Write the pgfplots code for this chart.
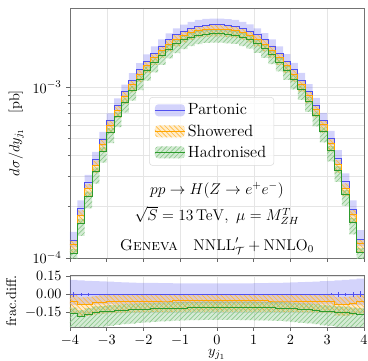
\documentclass[border=0pt]{standalone}
\usepackage{amsmath}
\usepackage{pgfplots}
\usepackage{pgfplotstable}
\pgfplotsset{compat=1.18}
\usepgfplotslibrary{fillbetween}

\definecolor{pblue}{RGB}{80,80,240}
\definecolor{porange}{RGB}{255,165,0}
\definecolor{pgreen}{RGB}{45,155,45}
\colorlet{hatchorange}{porange!75}
\colorlet{hatchgreen}{pgreen!55}

% bin left edge, partonic xs with upper/lower rel. band, showered and
% hadronised fractional differences w.r.t. partonic with upper/lower bands,
% partonic stat. error
\pgfplotstableread{
x     p        pu     pd     s       su     sd     h       hu     hd     e
-4.0  1.27e-4  0.120  0.090  -0.055  0.060  0.100  -0.160  0.050  0.130  0.020
-3.8  1.95e-4  0.115  0.088  -0.085  0.060  0.100  -0.180  0.050  0.130  0.015
-3.6  2.76e-4  0.112  0.085  -0.080  0.060  0.098  -0.165  0.050  0.128  0.010
-3.4  3.76e-4  0.110  0.083  -0.070  0.058  0.096  -0.150  0.050  0.125  0.006
-3.2  4.94e-4  0.107  0.082  -0.065  0.058  0.095  -0.145  0.050  0.122  0.005
-3.0  6.35e-4  0.105  0.080  -0.062  0.057  0.094  -0.140  0.050  0.120  0.004
-2.8  7.80e-4  0.102  0.080  -0.060  0.057  0.093  -0.135  0.050  0.118  0.004
-2.6  9.40e-4  0.100  0.078  -0.060  0.056  0.092  -0.130  0.050  0.116  0.003
-2.4  1.10e-3  0.098  0.078  -0.058  0.056  0.092  -0.128  0.050  0.114  0.003
-2.2  1.26e-3  0.096  0.077  -0.057  0.055  0.091  -0.125  0.050  0.112  0.003
-2.0  1.42e-3  0.095  0.077  -0.056  0.055  0.091  -0.122  0.050  0.110  0.003
-1.8  1.58e-3  0.094  0.076  -0.056  0.055  0.090  -0.120  0.050  0.108  0.002
-1.6  1.74e-3  0.093  0.076  -0.055  0.055  0.090  -0.118  0.050  0.106  0.002
-1.4  1.89e-3  0.092  0.075  -0.055  0.055  0.090  -0.116  0.050  0.105  0.002
-1.2  2.02e-3  0.091  0.075  -0.054  0.054  0.090  -0.114  0.050  0.104  0.002
-1.0  2.13e-3  0.090  0.075  -0.054  0.054  0.090  -0.113  0.050  0.103  0.002
-0.8  2.21e-3  0.090  0.075  -0.054  0.054  0.090  -0.112  0.050  0.102  0.002
-0.6  2.27e-3  0.090  0.075  -0.053  0.054  0.090  -0.112  0.050  0.102  0.002
-0.4  2.30e-3  0.090  0.075  -0.053  0.054  0.090  -0.111  0.050  0.101  0.002
-0.2  2.31e-3  0.090  0.075  -0.053  0.054  0.090  -0.111  0.050  0.101  0.002
 0.0  2.31e-3  0.090  0.075  -0.053  0.054  0.090  -0.111  0.050  0.101  0.002
 0.2  2.29e-3  0.090  0.075  -0.053  0.054  0.090  -0.111  0.050  0.101  0.002
 0.4  2.27e-3  0.090  0.075  -0.053  0.054  0.090  -0.111  0.050  0.101  0.002
 0.6  2.21e-3  0.090  0.075  -0.053  0.054  0.090  -0.111  0.050  0.102  0.002
 0.8  2.13e-3  0.091  0.075  -0.054  0.054  0.090  -0.111  0.050  0.102  0.002
 1.0  2.02e-3  0.092  0.075  -0.054  0.054  0.090  -0.112  0.050  0.103  0.002
 1.2  1.89e-3  0.093  0.075  -0.054  0.054  0.090  -0.112  0.050  0.104  0.002
 1.4  1.74e-3  0.094  0.076  -0.055  0.055  0.090  -0.112  0.050  0.105  0.002
 1.6  1.58e-3  0.095  0.076  -0.055  0.055  0.090  -0.113  0.050  0.106  0.002
 1.8  1.42e-3  0.097  0.077  -0.055  0.055  0.091  -0.116  0.050  0.108  0.003
 2.0  1.26e-3  0.099  0.077  -0.055  0.055  0.091  -0.120  0.050  0.110  0.003
 2.2  1.10e-3  0.101  0.078  -0.056  0.056  0.092  -0.124  0.050  0.112  0.003
 2.4  9.45e-4  0.103  0.078  -0.056  0.056  0.092  -0.127  0.050  0.114  0.004
 2.6  7.82e-4  0.106  0.080  -0.057  0.057  0.093  -0.130  0.050  0.116  0.004
 2.8  6.38e-4  0.109  0.080  -0.058  0.057  0.094  -0.138  0.050  0.118  0.005
 3.0  4.98e-4  0.112  0.082  -0.060  0.058  0.095  -0.142  0.050  0.120  0.008
 3.2  3.83e-4  0.116  0.083  -0.080  0.058  0.096  -0.150  0.050  0.122  0.020
 3.4  2.79e-4  0.120  0.085  -0.080  0.060  0.098  -0.152  0.050  0.125  0.015
 3.6  1.93e-4  0.125  0.088  -0.072  0.060  0.100  -0.160  0.050  0.128  0.020
 3.8  1.29e-4  0.130  0.090  -0.060  0.060  0.100  -0.165  0.050  0.130  0.025
 4.0  1.29e-4  0.130  0.090  -0.060  0.060  0.100  -0.165  0.050  0.130  0.000
}\data

% hatchings drawn as stroked lines clipped to the filled region:
% "\" lines for the showered band, "/" lines for the hadronised band
\tikzset{
  nodraw/.style={draw=none, draw opacity=0},
  hatchO/.style={nodraw, path picture={
    \foreach \k in {-62,...,66}
      \draw[hatchorange, line width=0.5pt, draw opacity=1]
        ([xshift=\k*3.6pt]path picture bounding box.north west) -- ++(240pt,-240pt);}},
  hatchG/.style={nodraw, path picture={
    \foreach \k in {-62,...,66}
      \draw[hatchgreen, line width=0.5pt, draw opacity=1]
        ([xshift=\k*3.6pt]path picture bounding box.south west) -- ++(240pt,240pt);}},
}
\pgfplotsset{
  panel/.style={
    scale only axis, width=226.4pt,
    xmin=-4, xmax=4, xtick={-4,...,4},
    tick align=outside, tick pos=left,
    major tick length=3pt, minor tick length=1.6pt,
    axis line style={black!55}, every tick/.style={black!60},
    grid=major, grid style={black!10, line width=0.35pt},
    minor grid style={black!10, line width=0.35pt},
    tick label style={font=\fontsize{10.95}{13}\selectfont},
    label style={font=\fontsize{10.95}{13}\selectfont},
  },
}

\begin{document}
\begin{tikzpicture}
% upper panel: cross section
\begin{axis}[panel,
  name=main, at={(53.9pt,79.3pt)}, anchor=south west, height=192.5pt,
  ymode=log, ymin=1e-4, ymax=2.9e-3,
  yminorgrids=true, xticklabels={},
  ylabel={$d\sigma/dy_{j_1}\quad[\mathrm{pb}]$},
  legend style={at={(0.269,0.644)}, anchor=north west, draw=black!15,
    rounded corners=2.5pt, fill=white, fill opacity=0.8, text opacity=1,
    font=\fontsize{12.5}{15}\selectfont,
    row sep=2pt, inner xsep=4pt, inner ysep=3pt},
  legend cell align=left,
]
\addlegendimage{legend image code/.code={
  \fill[pblue, fill opacity=0.25, nodraw] (0pt,-4.6pt) rectangle (23pt,4.6pt);
  \draw[pblue, line width=0.7pt] (0pt,0pt) -- (23pt,0pt);}}
\addlegendentry{Partonic}
\addlegendimage{legend image code/.code={
  \fill[porange, fill opacity=0.2, nodraw] (0pt,-4.6pt) rectangle (23pt,4.6pt);
  \path[hatchO] (0pt,-4.6pt) rectangle (23pt,4.6pt);
  \draw[porange, line width=0.7pt] (0pt,0pt) -- (23pt,0pt);}}
\addlegendentry{Showered}
\addlegendimage{legend image code/.code={
  \fill[pgreen, fill opacity=0.2, nodraw] (0pt,-4.6pt) rectangle (23pt,4.6pt);
  \path[hatchG] (0pt,-4.6pt) rectangle (23pt,4.6pt);
  \draw[pgreen, line width=0.7pt] (0pt,0pt) -- (23pt,0pt);}}
\addlegendentry{Hadronised}

% partonic band
\addplot[forget plot, const plot, nodraw, name path=pU] table[x=x, y expr=\thisrow{p}*(1+\thisrow{pu})] {\data};
\addplot[forget plot, const plot, nodraw, name path=pL] table[x=x, y expr=\thisrow{p}*(1-\thisrow{pd})] {\data};
\addplot[forget plot, fill=pblue, fill opacity=0.25, nodraw] fill between[of=pU and pL];
% showered band
\addplot[forget plot, const plot, nodraw, name path=sU] table[x=x, y expr=\thisrow{p}*(1+\thisrow{s}+\thisrow{su})] {\data};
\addplot[forget plot, const plot, nodraw, name path=sL] table[x=x, y expr=\thisrow{p}*(1+\thisrow{s}-\thisrow{sd})] {\data};
\addplot[forget plot, fill=porange, fill opacity=0.2, nodraw, hatchO] fill between[of=sU and sL];
% hadronised band
\addplot[forget plot, const plot, nodraw, name path=hU] table[x=x, y expr=\thisrow{p}*(1+\thisrow{h}+\thisrow{hu})] {\data};
\addplot[forget plot, const plot, nodraw, name path=hL] table[x=x, y expr=\thisrow{p}*(1+\thisrow{h}-\thisrow{hd})] {\data};
\addplot[forget plot, fill=pgreen, fill opacity=0.2, nodraw, hatchG] fill between[of=hU and hL];
% central values
\addplot[forget plot, const plot, draw=pblue, line width=0.7pt] table[x=x, y=p] {\data};
\addplot[forget plot, const plot, draw=porange, line width=0.7pt] table[x=x, y expr=\thisrow{p}*(1+\thisrow{s})] {\data};
\addplot[forget plot, const plot, draw=pgreen, line width=0.7pt] table[x=x, y expr=\thisrow{p}*(1+\thisrow{h})] {\data};

\begin{scope}[font=\fontsize{12}{14.4}\selectfont]
\node[anchor=center] at (rel axis cs:0.5,0.272) {$pp\to H(Z\to e^+e^-)$};
\node[anchor=center] at (rel axis cs:0.5,0.170) {$\sqrt{S}=13\,\mathrm{TeV},\ \mu=M_{ZH}^T$};
\node[anchor=center] at (rel axis cs:0.5,0.048) {\textsc{Geneva}\quad $\mathrm{NNLL}'_{\mathcal{T}}+\mathrm{NNLO}_0$};
\end{scope}
\end{axis}

% lower panel: fractional difference
\begin{axis}[panel,
  name=ratio, at={(53.9pt,26.2pt)}, anchor=south west, height=40pt,
  ymin=-0.27, ymax=0.16, ytick={-0.15,0,0.15},
  yticklabel style={/pgf/number format/.cd, fixed, fixed zerofill, precision=2},
  ylabel={frac.diff.}, xlabel={$y_{j_1}$},
  xlabel style={yshift=4pt},
]
\addplot[const plot, nodraw, name path=rpU] table[x=x, y=pu] {\data};
\addplot[const plot, nodraw, name path=rpL] table[x=x, y expr=-\thisrow{pd}] {\data};
\addplot[fill=pblue, fill opacity=0.25, nodraw] fill between[of=rpU and rpL];
\addplot[const plot, nodraw, name path=rsU] table[x=x, y expr=\thisrow{s}+\thisrow{su}] {\data};
\addplot[const plot, nodraw, name path=rsL] table[x=x, y expr=\thisrow{s}-\thisrow{sd}] {\data};
\addplot[fill=porange, fill opacity=0.2, nodraw, hatchO] fill between[of=rsU and rsL];
\addplot[const plot, nodraw, name path=rhU] table[x=x, y expr=\thisrow{h}+\thisrow{hu}] {\data};
\addplot[const plot, nodraw, name path=rhL] table[x=x, y expr=\thisrow{h}-\thisrow{hd}] {\data};
\addplot[fill=pgreen, fill opacity=0.2, nodraw, hatchG] fill between[of=rhU and rhL];
\addplot[const plot, draw=pblue, line width=0.6pt] table[x=x, y expr=0] {\data};
\addplot[const plot, draw=porange, line width=0.6pt] table[x=x, y=s] {\data};
\addplot[const plot, draw=pgreen, line width=0.6pt] table[x=x, y=h] {\data};
% statistical errors at bin centres
\addplot[nodraw, mark=none,
  error bars/.cd, y dir=both, y explicit, error mark=none,
  error bar style={draw=pblue, draw opacity=1, line width=0.5pt}]
  table[x expr=\thisrow{x}+0.1, y expr=0, y error=e] {\data};
\end{axis}

\pgfresetboundingbox
\path (0pt,0pt) rectangle (283.4pt,278pt);
\end{tikzpicture}
\end{document}
